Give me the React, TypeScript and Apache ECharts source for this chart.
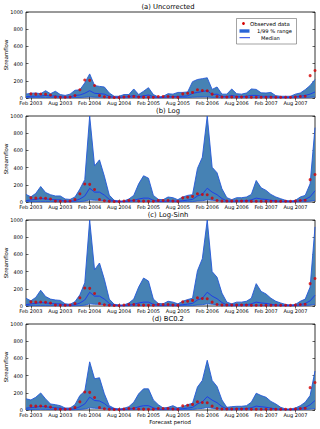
import React, { useEffect, useRef } from "react";
import * as echarts from "echarts";

const monthNames = ["Jan", "Feb", "Mar", "Apr", "May", "Jun", "Jul", "Aug", "Sep", "Oct", "Nov", "Dec"];
const years = [2003, 2004, 2005, 2006, 2007];
const categories: string[] = [];
years.forEach((y) => monthNames.forEach((m) => categories.push(m + " " + y)));

const panelTitles = ["(a) Uncorrected", "(b) Log", "(c) Log-Sinh", "(d) BC0.2"];
const yTicks = [0, 200, 400, 600, 800, 1000];

const observed = [null, 48, 45, 46, 44, 35, 12, 8, 8, 12, 28, 95, 210, 205, 145, 28, 15, 8, 5, 6,
  12, 18, 18, 12, 10, 8, 8, 18, 18, 18, 12, 8, 48, 55, 65, 95, 88, 85, 45, 18,
  12, 12, 12, 12, 12, 12, 8, 8, 8, 8, 8, 8, 8, 8, 8, 12, 18, 20, 260, 320];

const upperA = [45, 55, 58, 50, 85, 50, 78, 40, 30, 45, 90, 95, 175, 280, 145, 135, 128, 58, 20, 20,
  40, 40, 105, 40, 78, 120, 40, 12, 20, 50, 45, 65, 65, 70, 190, 215, 225, 235, 100, 128,
  45, 45, 105, 50, 45, 58, 105, 100, 60, 58, 65, 27, 20, 20, 20, 45, 58, 97, 145, 215];
const medianA = [15, 20, 22, 22, 30, 22, 25, 15, 10, 12, 30, 35, 55, 85, 55, 50, 45, 20, 8, 8,
  12, 15, 30, 15, 25, 35, 15, 5, 6, 15, 15, 20, 20, 25, 55, 65, 75, 85, 40, 45,
  18, 15, 30, 18, 15, 20, 30, 30, 20, 20, 20, 8, 6, 6, 6, 15, 20, 30, 45, 70];
const lowerA = [4, 5, 5, 5, 6, 5, 5, 3, 2, 3, 6, 6, 10, 15, 10, 9, 8, 4, 2, 2,
  3, 3, 6, 3, 5, 7, 3, 1, 1, 3, 3, 4, 4, 5, 10, 12, 13, 15, 7, 8,
  3, 3, 6, 3, 3, 4, 6, 6, 4, 4, 4, 2, 1, 1, 1, 3, 4, 6, 9, 13];

const upperB = [88, 60, 100, 180, 110, 85, 70, 70, 35, 30, 58, 150, 260, 1000, 420, 490, 300, 80, 20, 12,
  12, 35, 77, 211, 305, 277, 77, 31, 27, 58, 50, 27, 58, 77, 85, 390, 520, 1000, 404, 340,
  154, 50, 27, 50, 50, 58, 88, 250, 165, 135, 88, 58, 38, 19, 12, 19, 58, 77, 211, 865];
const medianB = [15, 25, 30, 40, 35, 30, 25, 25, 10, 8, 15, 35, 70, 160, 115, 115, 80, 30, 8, 5,
  5, 10, 20, 35, 45, 45, 20, 8, 6, 12, 12, 8, 15, 22, 30, 70, 90, 160, 115, 85,
  40, 12, 8, 12, 12, 15, 25, 45, 35, 30, 20, 12, 8, 5, 4, 6, 15, 30, 60, 130];
const lowerB = [3, 4, 4, 5, 5, 4, 3, 3, 1, 1, 2, 5, 10, 25, 20, 20, 15, 4, 1, 1,
  1, 1, 3, 5, 8, 8, 3, 1, 1, 2, 2, 1, 2, 3, 5, 12, 15, 25, 20, 15,
  6, 2, 1, 2, 2, 2, 4, 8, 6, 5, 3, 2, 1, 1, 1, 1, 2, 5, 10, 20];

const upperC = [90, 60, 100, 183, 110, 80, 70, 65, 25, 20, 50, 130, 270, 1000, 420, 500, 310, 80, 20, 12,
  12, 35, 80, 220, 325, 290, 80, 30, 25, 55, 45, 25, 55, 75, 90, 410, 550, 1000, 400, 335,
  150, 45, 25, 45, 45, 55, 90, 260, 170, 140, 90, 55, 35, 18, 12, 18, 55, 80, 220, 920];
const medianC = [15, 25, 30, 40, 35, 30, 25, 25, 10, 8, 15, 35, 70, 160, 115, 115, 80, 30, 8, 5,
  5, 10, 20, 35, 45, 45, 20, 8, 6, 12, 12, 8, 15, 22, 30, 70, 90, 160, 115, 85,
  40, 12, 8, 12, 12, 15, 25, 45, 35, 30, 20, 12, 8, 5, 4, 6, 15, 30, 60, 125];
const lowerC = [3, 4, 4, 5, 5, 4, 3, 3, 1, 1, 2, 5, 10, 25, 20, 20, 15, 4, 1, 1,
  1, 1, 3, 5, 8, 8, 3, 1, 1, 2, 2, 1, 2, 3, 5, 12, 15, 25, 20, 15,
  6, 2, 1, 2, 2, 2, 4, 8, 6, 5, 3, 2, 1, 1, 1, 1, 2, 5, 10, 20];

const upperD = [130, 117, 148, 198, 129, 70, 62, 50, 23, 23, 62, 168, 219, 560, 363, 375, 188, 50, 20, 12,
  20, 39, 90, 188, 246, 246, 117, 62, 23, 31, 50, 23, 39, 62, 78, 266, 344, 578, 344, 273,
  117, 31, 39, 43, 43, 50, 90, 195, 168, 148, 100, 70, 31, 12, 12, 23, 50, 90, 168, 453];
const medianD = [20, 28, 32, 42, 36, 30, 25, 22, 10, 8, 15, 38, 70, 150, 110, 105, 75, 28, 8, 5,
  6, 10, 20, 38, 50, 50, 25, 10, 6, 12, 14, 8, 15, 22, 30, 70, 95, 155, 115, 85,
  40, 12, 10, 14, 14, 16, 26, 45, 38, 32, 22, 12, 8, 5, 4, 6, 15, 30, 60, 110];
const lowerD = [5, 6, 6, 8, 7, 5, 4, 4, 2, 1, 3, 7, 12, 25, 20, 18, 14, 5, 1, 1,
  1, 2, 4, 7, 10, 10, 4, 2, 1, 2, 3, 1, 3, 4, 6, 14, 18, 28, 20, 15,
  7, 2, 2, 3, 3, 3, 5, 9, 7, 6, 4, 2, 1, 1, 1, 1, 3, 6, 11, 18];

const panels = [
  { upper: upperA, median: medianA, lower: lowerA },
  { upper: upperB, median: medianB, lower: lowerB },
  { upper: upperC, median: medianC, lower: lowerC },
  { upper: upperD, median: medianD, lower: lowerD },
];

const FONT = "DejaVu Sans";
const GRID_LEFT = 26;
const GRID_W = 289;
const GRID_H = 86;
const GRID_TOPS = [12, 116, 220, 324];
const FILL = "#4682b4";
const EDGE = "#2458d8";
const MEDIAN = "#1f3fe6";
const RED = "#d40000";

export default function App() {
  const ref = useRef<HTMLDivElement>(null);
  useEffect(() => {
    if (!ref.current) return;
    const chart = echarts.init(ref.current, undefined, { renderer: "svg" });
    const grid: any[] = [];
    const xAxis: any[] = [];
    const yAxis: any[] = [];
    const series: any[] = [];
    const graphic: any[] = [];
    const tickShow = (i: number) => i % 6 === 1;

    panels.forEach((p, k) => {
      const top = GRID_TOPS[k];
      grid.push({ left: GRID_LEFT, top, width: GRID_W, height: GRID_H, show: true, borderColor: "#000", borderWidth: 0.8, backgroundColor: "#fff" });
      xAxis.push({
        type: "category", gridIndex: k, data: categories, boundaryGap: false,
        axisLine: { show: false },
        axisTick: { show: true, inside: true, length: 2.5, interval: (i: number) => tickShow(i), lineStyle: { color: "#000", width: 0.6 } },
        axisLabel: { interval: (i: number) => tickShow(i), fontSize: 5, fontFamily: FONT, color: "#000", margin: 2 },
        splitLine: { show: false },
      });
      xAxis.push({
        type: "category", gridIndex: k, data: categories, boundaryGap: false, position: "top",
        axisLine: { show: false },
        axisTick: { show: true, inside: true, length: 2.5, interval: (i: number) => tickShow(i), lineStyle: { color: "#000", width: 0.6 } },
        axisLabel: { show: false }, splitLine: { show: false },
      });
      yAxis.push({
        type: "value", gridIndex: k, min: 0, max: 1000, interval: 200,
        axisLine: { show: false },
        axisTick: { show: true, inside: true, length: 2.5, lineStyle: { color: "#000", width: 0.6 } },
        axisLabel: { fontSize: 5, fontFamily: FONT, color: "#000", margin: 3, formatter: (v: number) => (yTicks.includes(v) ? String(v) : "") },
        splitLine: { show: false },
      });
      yAxis.push({
        type: "value", gridIndex: k, min: 0, max: 1000, interval: 200, position: "right",
        axisLine: { show: false },
        axisTick: { show: true, inside: true, length: 2.5, lineStyle: { color: "#000", width: 0.6 } },
        axisLabel: { show: false }, splitLine: { show: false },
      });
      const xi = k * 2;
      const yi = k * 2;
      const diff = p.upper.map((u, i) => u - p.lower[i]);
      series.push({ type: "line", xAxisIndex: xi, yAxisIndex: yi, data: p.lower, stack: "band" + k, symbol: "none", lineStyle: { opacity: 0 }, silent: true });
      series.push({ type: "line", xAxisIndex: xi, yAxisIndex: yi, data: diff, stack: "band" + k, symbol: "none", lineStyle: { opacity: 0 }, areaStyle: { color: FILL, opacity: 1 }, silent: true });
      series.push({ type: "line", xAxisIndex: xi, yAxisIndex: yi, data: p.upper, symbol: "none", lineStyle: { color: EDGE, width: 0.9 }, silent: true });
      series.push({ type: "line", xAxisIndex: xi, yAxisIndex: yi, data: p.lower, symbol: "none", lineStyle: { color: EDGE, width: 0.9 }, silent: true });
      series.push({ type: "line", xAxisIndex: xi, yAxisIndex: yi, data: p.median, symbol: "none", lineStyle: { color: MEDIAN, width: 1 }, silent: true });
      series.push({ type: "scatter", xAxisIndex: xi, yAxisIndex: yi, data: observed, symbol: "circle", symbolSize: 3, itemStyle: { color: RED }, silent: true, z: 5 });

      graphic.push({ type: "text", x: 168, y: top - 5, z: 100, style: { text: panelTitles[k], font: `6.8px "${FONT}"`, fill: "#000", align: "center", verticalAlign: "middle" } });
      graphic.push({ type: "text", x: 6, y: top + GRID_H / 2, rotation: Math.PI / 2, z: 100, style: { text: "Streamflow", font: `5.4px "${FONT}"`, fill: "#000", align: "center", verticalAlign: "middle" } });
    });

    graphic.push({ type: "text", x: 170, y: 422, z: 100, style: { text: "Forecast period", font: `5.4px "${FONT}"`, fill: "#000", align: "center", verticalAlign: "middle" } });
    // legend
    graphic.push({ type: "rect", z: 100, shape: { x: 236.5, y: 18.5, width: 60, height: 25.5 }, style: { fill: "#fff", stroke: "#666", lineWidth: 0.6 } });
    graphic.push({ type: "circle", z: 101, shape: { cx: 243.5, cy: 23.5, r: 1.4 }, style: { fill: RED } });
    graphic.push({ type: "rect", z: 101, shape: { x: 239.5, y: 29.3, width: 10, height: 3.4 }, style: { fill: "#2a64d6" } });
    graphic.push({ type: "line", z: 101, shape: { x1: 239.5, y1: 37.7, x2: 250, y2: 37.7 }, style: { stroke: MEDIAN, lineWidth: 1 } });
    graphic.push({ type: "text", z: 101, x: 250, y: 23.5, style: { text: "Observed data", font: `5.4px "${FONT}"`, fill: "#000", align: "left", verticalAlign: "middle" } });
    graphic.push({ type: "text", z: 101, x: 257, y: 30.8, style: { text: "1/99 % range", font: `5.2px "${FONT}"`, fill: "#000", align: "left", verticalAlign: "middle" } });
    graphic.push({ type: "text", z: 101, x: 261, y: 37.7, style: { text: "Median", font: `5.2px "${FONT}"`, fill: "#000", align: "left", verticalAlign: "middle" } });

    chart.setOption({ animation: false, backgroundColor: "#fff", grid, xAxis, yAxis, series, graphic });
    return () => chart.dispose();
  }, []);
  return <div ref={ref} style={{ position: "fixed", left: 0, top: 0, width: 320, height: 429 }} />;
}
